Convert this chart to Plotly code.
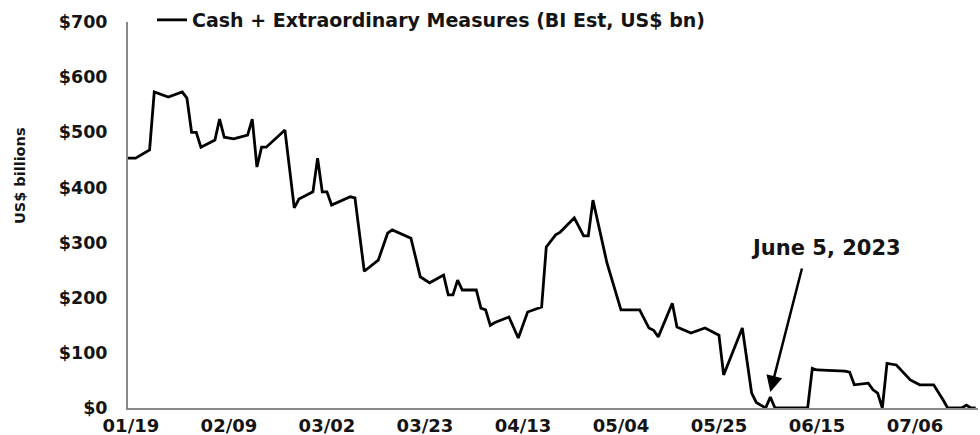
import plotly.graph_objects as go

# Treasury cash balance plus remaining extraordinary measures, US$ bn
dates = [
    "2023-01-18", "2023-01-20", "2023-01-23", "2023-01-24", "2023-01-27",
    "2023-01-30", "2023-01-31", "2023-02-01", "2023-02-02", "2023-02-03",
    "2023-02-06", "2023-02-07", "2023-02-08", "2023-02-10", "2023-02-13",
    "2023-02-14", "2023-02-15", "2023-02-16", "2023-02-17", "2023-02-21",
    "2023-02-23", "2023-02-24", "2023-02-27", "2023-02-28", "2023-03-01",
    "2023-03-02", "2023-03-03", "2023-03-07", "2023-03-08", "2023-03-10",
    "2023-03-13", "2023-03-15", "2023-03-16", "2023-03-20", "2023-03-22",
    "2023-03-24", "2023-03-27", "2023-03-28", "2023-03-29", "2023-03-30",
    "2023-03-31", "2023-04-03", "2023-04-04", "2023-04-05", "2023-04-06",
    "2023-04-07", "2023-04-10", "2023-04-12", "2023-04-14", "2023-04-17",
    "2023-04-18", "2023-04-20", "2023-04-21", "2023-04-24", "2023-04-26",
    "2023-04-27", "2023-04-28", "2023-05-01", "2023-05-04", "2023-05-08",
    "2023-05-10", "2023-05-11", "2023-05-12", "2023-05-15", "2023-05-16",
    "2023-05-19", "2023-05-22", "2023-05-25", "2023-05-26", "2023-05-30",
    "2023-06-01", "2023-06-02", "2023-06-04", "2023-06-05", "2023-06-06",
    "2023-06-13", "2023-06-14", "2023-06-15", "2023-06-21", "2023-06-22",
    "2023-06-23", "2023-06-26", "2023-06-27", "2023-06-28", "2023-06-29",
    "2023-06-30", "2023-07-02", "2023-07-05", "2023-07-07", "2023-07-10",
    "2023-07-12", "2023-07-13", "2023-07-16", "2023-07-17", "2023-07-18",
    "2023-07-19",
]
cash_plus_measures = [
    453, 453, 468, 573, 564,
    573, 562, 500, 500, 473,
    486, 524, 491, 488, 495,
    524, 437, 473, 473, 504,
    363, 379, 392, 453, 392,
    392, 368, 383, 381, 248,
    268, 317, 323, 308, 238,
    227, 241, 205, 205, 232,
    214, 214, 181, 178, 150,
    155, 165, 127, 174, 183,
    292, 314, 319, 345, 312,
    312, 377, 263, 178, 178,
    145, 141, 129, 190, 147,
    136, 145, 132, 60, 145,
    27, 10, 0, 20, 0,
    0, 72, 69, 67, 65,
    42, 45, 33, 27, 0,
    81, 78, 51, 42, 42,
    15, 0, 0, 5, 0,
    0,
]

tick_dates = ["2023-01-19", "2023-02-09", "2023-03-02", "2023-03-23", "2023-04-13",
              "2023-05-04", "2023-05-25", "2023-06-15", "2023-07-06"]
tick_labels = ["01/19", "02/09", "03/02", "03/23", "04/13",
               "05/04", "05/25", "06/15", "07/06"]
y_ticks = [0, 100, 200, 300, 400, 500, 600, 700]
y_labels = ["$0", "$100", "$200", "$300", "$400", "$500", "$600", "$700"]

callout_date = "2023-06-05"
callout_text = "June 5, 2023"

FONT = "DejaVu Sans"
INK = "#141414"
AXIS = "#8a8a8a"

fig = go.Figure()
fig.add_trace(go.Scatter(
    x=dates, y=cash_plus_measures, mode="lines",
    name="Cash + Extraordinary Measures (BI Est, US$ bn)",
    line=dict(color="#000000", width=2.8),
))

fig.update_layout(
    width=980, height=435,
    margin=dict(l=128, r=2, t=22, b=27, autoexpand=False),
    paper_bgcolor="white", plot_bgcolor="white",
    showlegend=True,
    legend=dict(
        orientation="h", xref="container", yref="container",
        x=152 / 980, y=1 - 20 / 435, xanchor="left", yanchor="middle",
        font=dict(family=FONT, size=19, color=INK, weight="bold"),
        bgcolor="rgba(0,0,0,0)", itemwidth=30,
    ),
    xaxis=dict(
        type="date",
        range=["2023-01-18 09:00", "2023-07-19 12:00"],
        tickvals=tick_dates, ticktext=tick_labels,
        showgrid=False, zeroline=False,
        showline=True, linecolor=AXIS, linewidth=2,
        ticks="", ticklabelstandoff=0,
        tickfont=dict(family=FONT, size=18, color=INK, weight="bold"),
    ),
    yaxis=dict(
        range=[0, 700],
        tickvals=y_ticks, ticktext=y_labels,
        showgrid=False, zeroline=False,
        showline=True, linecolor=AXIS, linewidth=2,
        ticks="", ticklabelstandoff=15,
        tickfont=dict(family=FONT, size=17.5, color=INK, weight="bold"),
    ),
)

# rotated axis title
fig.add_annotation(
    text="US$ billions", textangle=-90,
    xref="paper", yref="paper", x=(20 - 128) / 850, y=(408 - 176) / 386,
    xanchor="center", yanchor="middle",
    showarrow=False, font=dict(family=FONT, size=14.5, color=INK, weight="bold"),
)

# callout label and its arrow pointing at the June 5 mark
fig.add_annotation(
    text=callout_text, x="2023-06-17", y=290, xref="x", yref="y",
    showarrow=False, font=dict(family=FONT, size=21, color=INK, weight="bold"),
)
fig.add_annotation(
    text="", x=callout_date, y=29, xref="x", yref="y",
    showarrow=True, ax=32, ay=-125,
    arrowhead=2, arrowsize=1.3, arrowwidth=2.5, arrowcolor="#000000",
)

fig.write_html("out.html")
